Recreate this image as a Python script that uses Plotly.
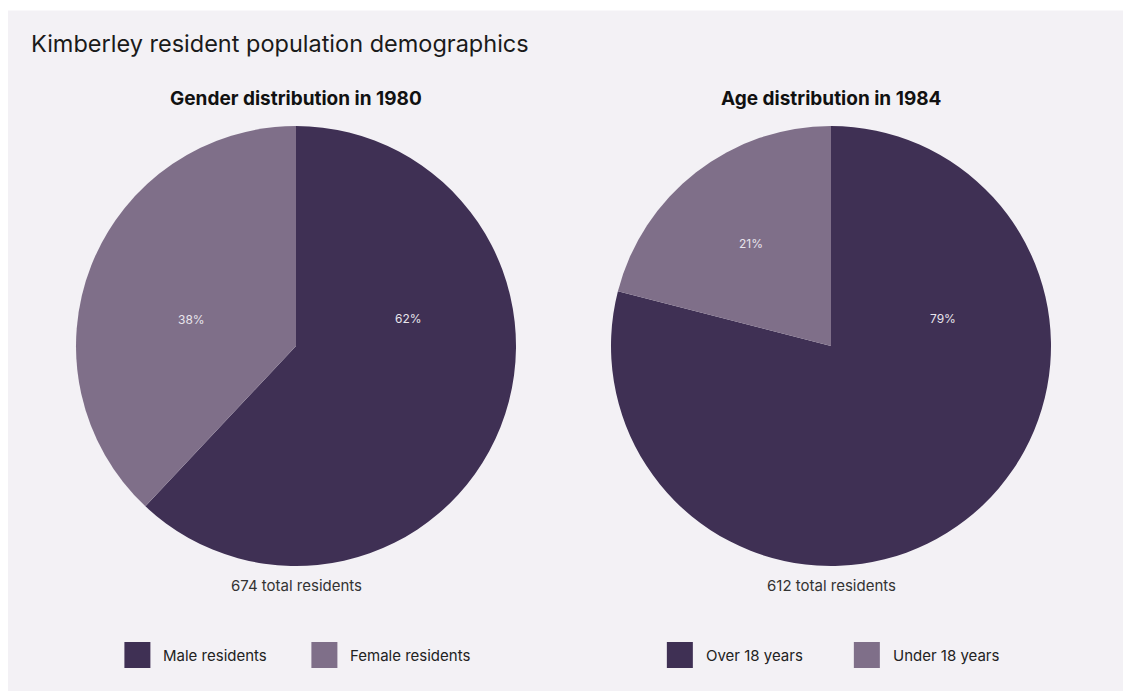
import math
import plotly.graph_objects as go

FW, FH = 1147, 691  # figure size in px (a little wider than the window so the panel reaches the edge)
OFF = 8  # page body margin

gender_labels = ["Male residents", "Female residents"]
gender_values = [62, 38]
gender_total = 674
age_labels = ["Over 18 years", "Under 18 years"]
age_values = [79, 21]
age_total = 612

title = "Kimberley resident population demographics"
sub_titles = ["Gender distribution in 1980", "Age distribution in 1984"]

colors = ["#3f3054", "#7f6f89"]
bg = "#f3f1f5"
FONT = "Inter"

def px(x):
    return (x - OFF) / FW

def py(y):
    return 1 - (y - OFF) / FH

fig = go.Figure()

# panel background (white strip above it, like the reference)
fig.add_shape(type="rect", xref="paper", yref="paper", x0=0, x1=1, y0=0, y1=py(10.5),
              fillcolor=bg, line=dict(width=0), layer="below")

pies = [
    (gender_labels, gender_values, gender_total, 296),
    (age_labels, age_values, age_total, 831),
]
R = 220
CY = 346
SIDE = 76  # preferred label angle for large slices
for i, (labels, values, total, cx) in enumerate(pies):
    fig.add_trace(go.Pie(
        labels=labels, values=values, sort=False, direction="clockwise", rotation=0,
        marker=dict(colors=colors, line=dict(width=0)),
        textinfo="none",
        domain=dict(x=[px(cx - R), px(cx + R)], y=[py(CY + R), py(CY - R)]),
        showlegend=False, hoverinfo="label+percent",
    ))
    # percent labels
    tot = sum(values)
    cum = 0
    for v in values:
        a0 = cum / tot * 360
        a1 = (cum + v) / tot * 360
        cum += v
        if a0 <= SIDE <= a1:
            a, r = SIDE, 0.525 * R
        elif a0 <= 360 - SIDE <= a1:
            a, r = -SIDE, 0.49 * R
        else:
            a, r = (a0 + a1) / 2, 0.59 * R
        lx = cx + r * math.sin(math.radians(a))
        ly = CY - r * math.cos(math.radians(a))
        fig.add_annotation(text=f"{round(v / tot * 100)}%", x=px(lx), y=py(ly), xref="paper", yref="paper",
                           showarrow=False, font=dict(family=FONT, size=12, color="#e8e4ec"),
                           xanchor="center", yanchor="middle")
    fig.add_annotation(text=f"<b>{sub_titles[i]}</b>", x=px(cx), y=py(98), xref="paper", yref="paper",
                       showarrow=False, font=dict(family=FONT, size=19, color="#111111"),
                       xanchor="center", yanchor="middle")
    fig.add_annotation(text=f"{total} total residents", x=px(cx), y=py(585), xref="paper", yref="paper",
                       showarrow=False, font=dict(family=FONT, size=15, color="#333333"),
                       xanchor="center", yanchor="middle")
    # legend: fixed-width first item, group centred under the pie
    item_w = 187
    last_w = 37 + len(labels[-1]) * 7.45
    start = cx - (item_w * (len(labels) - 1) + last_w) / 2
    for j, lab in enumerate(labels):
        x0 = start + j * item_w
        fig.add_shape(type="rect", xref="paper", yref="paper",
                      x0=px(x0), x1=px(x0 + 26), y0=py(668), y1=py(642),
                      fillcolor=colors[j], line=dict(width=0))
        fig.add_annotation(text=lab, x=px(x0 + 37), y=py(655), xref="paper", yref="paper",
                           showarrow=False, font=dict(family=FONT, size=15, color="#222222"),
                           xanchor="left", yanchor="middle")

fig.add_annotation(text=title, x=px(29), y=py(43), xref="paper", yref="paper", showarrow=False,
                   font=dict(family=FONT, size=23.5, color="#1a1a1a"), xanchor="left", yanchor="middle")

fig.update_layout(width=FW, height=FH, margin=dict(l=0, r=0, t=0, b=0),
                  paper_bgcolor="white", plot_bgcolor=bg)

fig.write_html("out.html")
